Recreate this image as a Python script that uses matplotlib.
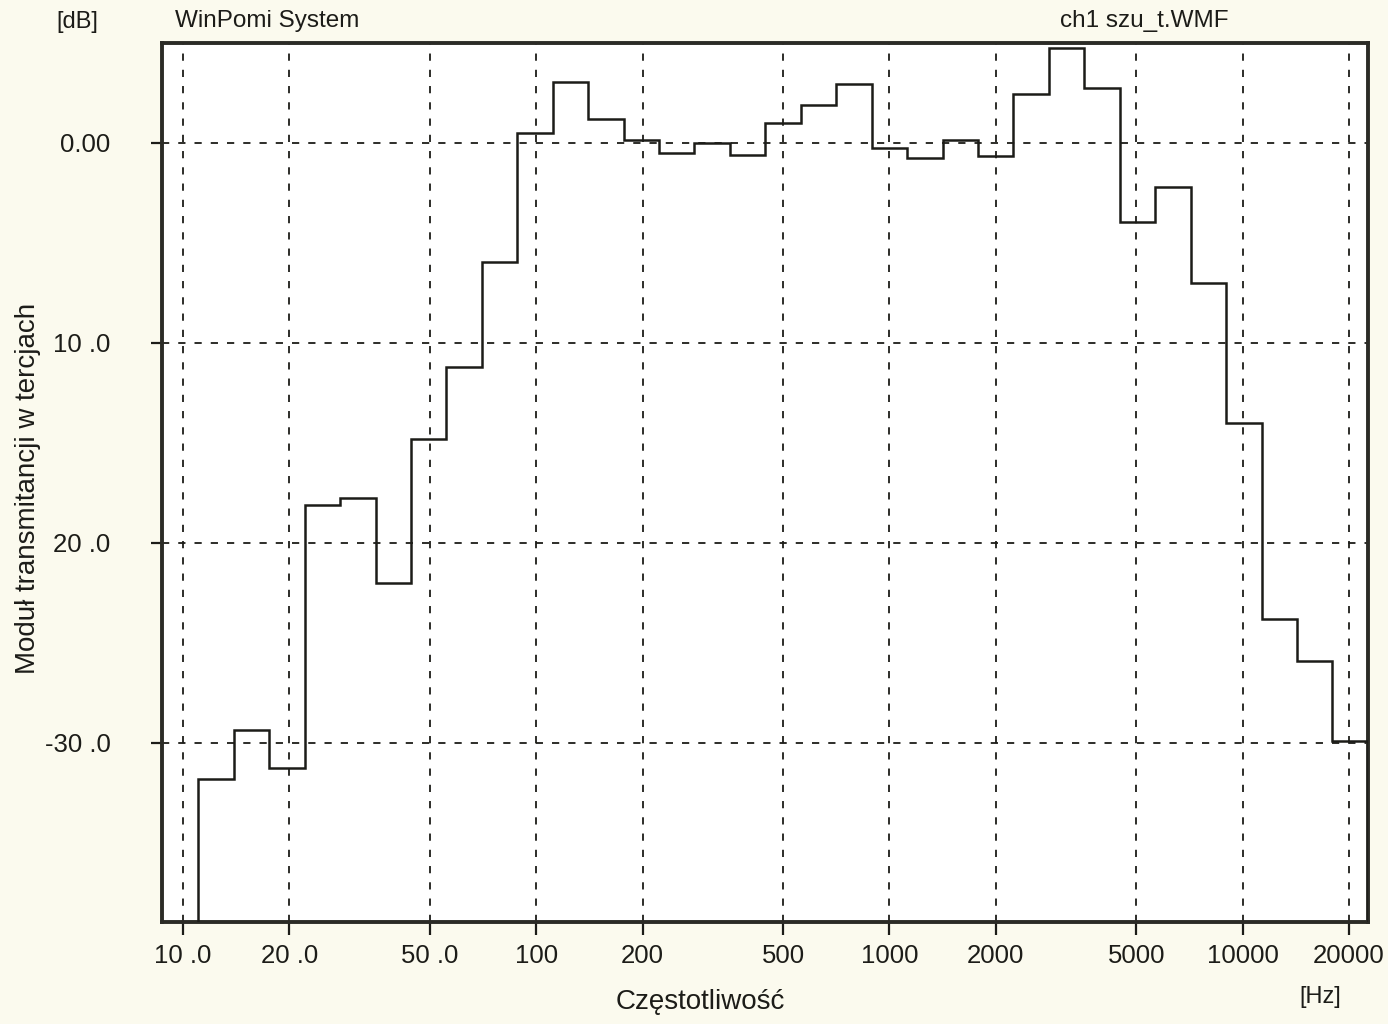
import numpy as np
import matplotlib
matplotlib.use('Agg')
import matplotlib.pyplot as plt
from matplotlib.ticker import FixedLocator, FixedFormatter, NullLocator

plt.rcParams['font.family'] = ['Liberation Sans', 'DejaVu Sans']

# ==================== Moduł transmitancji w pasmach tercjowych ====================

# środki pasm tercjowych [Hz]
pasma = [12.5, 16, 20, 25, 31.5, 40, 50, 63, 80, 100, 125, 160, 200, 250, 315,
         400, 500, 630, 800, 1000, 1250, 1600, 2000, 2500, 3150, 4000, 5000,
         6300, 8000, 10000, 12500, 16000, 20000]

# moduł transmitancji [dB]
modul = [-31.8, -29.35, -31.25, -18.1, -17.75, -22.0, -14.8, -11.2, -5.95,
         0.5, 3.05, 1.2, 0.15, -0.5, 0.0, -0.6, 1.0, 1.9, 2.95,
         -0.25, -0.75, 0.15, -0.65, 2.45, 4.75, 2.75, -3.95, -2.2, -7.0,
         -14.0, -23.8, -25.9, -29.9]

x_ticks = [10, 20, 50, 100, 200, 500, 1000, 2000, 5000, 10000, 20000]
x_labels = ['10 .0', '20 .0', '50 .0', '100', '200', '500', '1000', '2000',
            '5000', '10000', '20000']
y_ticks = [0, -10, -20, -30]
y_labels = ['0.00', '10 .0', '20 .0', '-30 .0']

# granice pasm tercjowych (dokładne, względem 1 kHz)
n = np.round(3 * np.log2(np.array(pasma) / 1000.0))
krawedzie = 1000.0 * 2 ** ((np.append(n - 0.5, n[-1] + 0.5)) / 3)

W, H = 1388, 1024
papier = '#fbfaee'
tusz = '#1c1c18'

fig = plt.figure(figsize=(W / 100, H / 100), dpi=100, facecolor=papier)
ax = fig.add_axes([162 / W, 1 - 922 / H, (1368 - 162) / W, (922 - 43) / H])
ax.set_facecolor('white')

ax.set_xscale('log')
ax.set_xlim(8.72, 22650)
ax.set_ylim(-38.95, 5.0)

ax.stairs(modul, krawedzie, baseline=-38.95, color=tusz, linewidth=1.8, zorder=3)

ax.xaxis.set_major_locator(FixedLocator(x_ticks))
ax.xaxis.set_major_formatter(FixedFormatter(x_labels))
ax.xaxis.set_minor_locator(NullLocator())
ax.yaxis.set_major_locator(FixedLocator(y_ticks))
ax.yaxis.set_major_formatter(FixedFormatter(y_labels))

ax.grid(True, linestyle=(0, (4, 5)), linewidth=1.3, color=tusz)
ax.tick_params(axis='x', direction='out', length=9, width=1.6, colors=tusz,
               labelsize=18.5, pad=7)
ax.tick_params(axis='y', direction='out', length=8, width=1.6, colors=tusz,
               labelsize=18.5, pad=29)

for s in ax.spines.values():
    s.set_linewidth(2.8)
    s.set_color('#2b2b26')

# napisy
fig.text(77 / W, 1 - 22 / H, '[dB]', fontsize=17, color=tusz, ha='center', va='center')
fig.text(175 / W, 1 - 21 / H, 'WinPomi System', fontsize=17.5, color=tusz, ha='left', va='center')
fig.text(1144 / W, 1 - 21 / H, 'ch1 szu_t.WMF', fontsize=17.5, color=tusz, ha='center', va='center')
fig.text(28 / W, 1 - 488 / H, 'Moduł transmitancji w tercjach', fontsize=20, color=tusz,
         rotation=90, ha='center', va='center')
fig.text(700 / W, 1 - 1002 / H, 'Częstotliwość', fontsize=20, color=tusz, ha='center', va='center')
fig.text(1320 / W, 1 - 997 / H, '[Hz]', fontsize=17, color=tusz, ha='center', va='center')

fig.savefig('out.png', dpi=100, facecolor=papier)
